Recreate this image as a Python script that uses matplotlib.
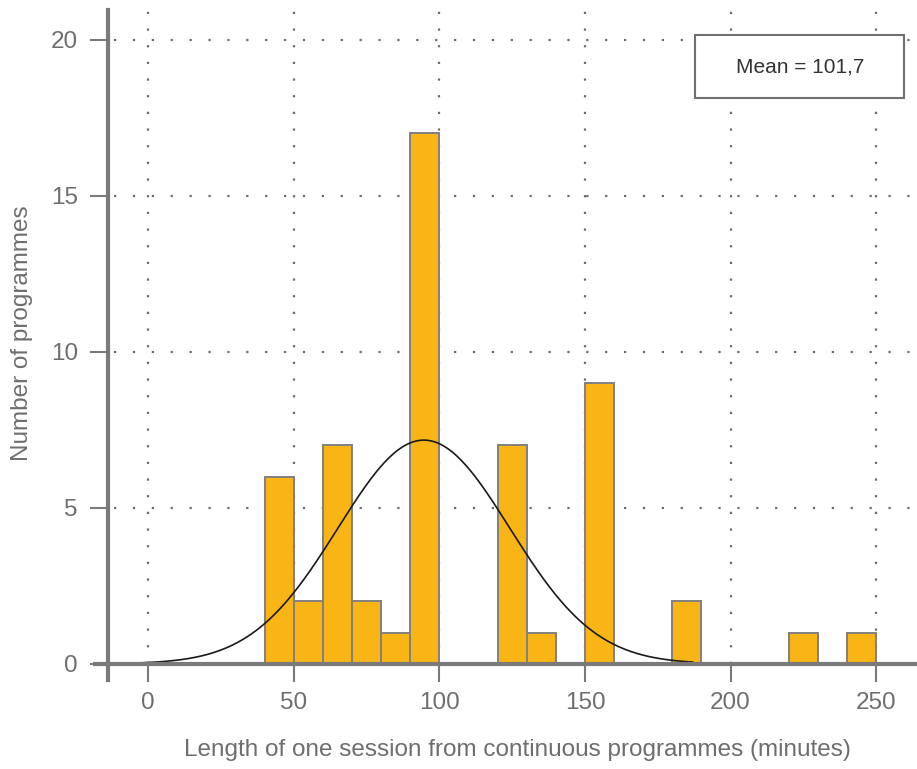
import numpy as np
import matplotlib
matplotlib.use('Agg')
import matplotlib.pyplot as plt
from matplotlib.patches import Rectangle

plt.rcParams['font.family'] = ['Liberation Sans', 'DejaVu Sans']

# Histogram data (bin left edges, width 10 minutes)
bin_left = [40, 50, 60, 70, 80, 90, 120, 130, 150, 180, 220, 240]
counts = [6, 2, 7, 2, 1, 17, 7, 1, 9, 2, 1, 1]
bin_width = 10

x_ticks = [0, 50, 100, 150, 200, 250]
y_ticks = [0, 5, 10, 15, 20]

# normal curve parameters as drawn
curve_mean = 94.7
curve_sd = 29.5
curve_n = 53
curve_range = (-14.4, 187)

mean_label = 'Mean = 101,7'
xlabel = 'Length of one session from continuous programmes (minutes)'
ylabel = 'Number of programmes'

W, H = 917, 769
txt = '#6e6e6e'
axcol = '#7a7a7a'
gridcol = '#6a6a6a'

fig = plt.figure(figsize=(W / 100, H / 100), dpi=100)
ax = fig.add_axes([95 / W, (H - 680) / H, (917 - 95) / W, 670 / H])
ax.set_xlim(-18.2, 264)
ax.set_ylim(-0.52, 20.95)

spine_x = -13.6

# dotted grid
dots = (0, (1, 7.5))
ax.hlines(y_ticks[1:], spine_x + 2, 264, colors=gridcol, lw=1.6, linestyles=dots, zorder=1)
ax.vlines(x_ticks, 0, 20.95, colors=gridcol, lw=1.6, linestyles=(0, (1, 6.5)), zorder=1)

ax.bar(bin_left, counts, width=bin_width, align='edge', color='#f9b515',
       edgecolor='#808080', linewidth=1.4, zorder=2)

xs = np.linspace(curve_range[0], curve_range[1], 400)
ys = curve_n * bin_width / (curve_sd * np.sqrt(2 * np.pi)) * np.exp(-0.5 * ((xs - curve_mean) / curve_sd) ** 2)
ax.plot(xs, ys, color='#1a1a1a', lw=1.2, zorder=3)

for s in ['top', 'right']:
    ax.spines[s].set_visible(False)
ax.spines['left'].set_position(('data', spine_x))
ax.spines['bottom'].set_position(('data', 0))
for s in ['left', 'bottom']:
    ax.spines[s].set_color(axcol)
    ax.spines[s].set_linewidth(3)
    ax.spines[s].set_zorder(4)

ax.set_xticks(x_ticks)
ax.set_yticks(y_ticks)
ax.tick_params(axis='both', colors=axcol, length=13, width=1.5, labelsize=17.5,
               labelcolor=txt, direction='out')
ax.tick_params(axis='x', pad=7)
ax.tick_params(axis='y', pad=9)

fig.text(517 / W, 1 - 750 / H, xlabel, ha='center', va='center', fontsize=17.5, color=txt)
fig.text(22 / W, 1 - 333 / H, ylabel, ha='center', va='center', rotation=90, fontsize=17.5, color=txt)

# mean box
fig.patches.append(Rectangle((695 / W, 1 - 98 / H), 209 / W, 63 / H, transform=fig.transFigure,
                             facecolor='white', edgecolor='#707070', lw=1.5, zorder=5))
fig.text(800 / W, 1 - 67 / H, mean_label, ha='center', va='center', fontsize=15, color='#333333', zorder=6)

fig.savefig('out.png', dpi=100)
